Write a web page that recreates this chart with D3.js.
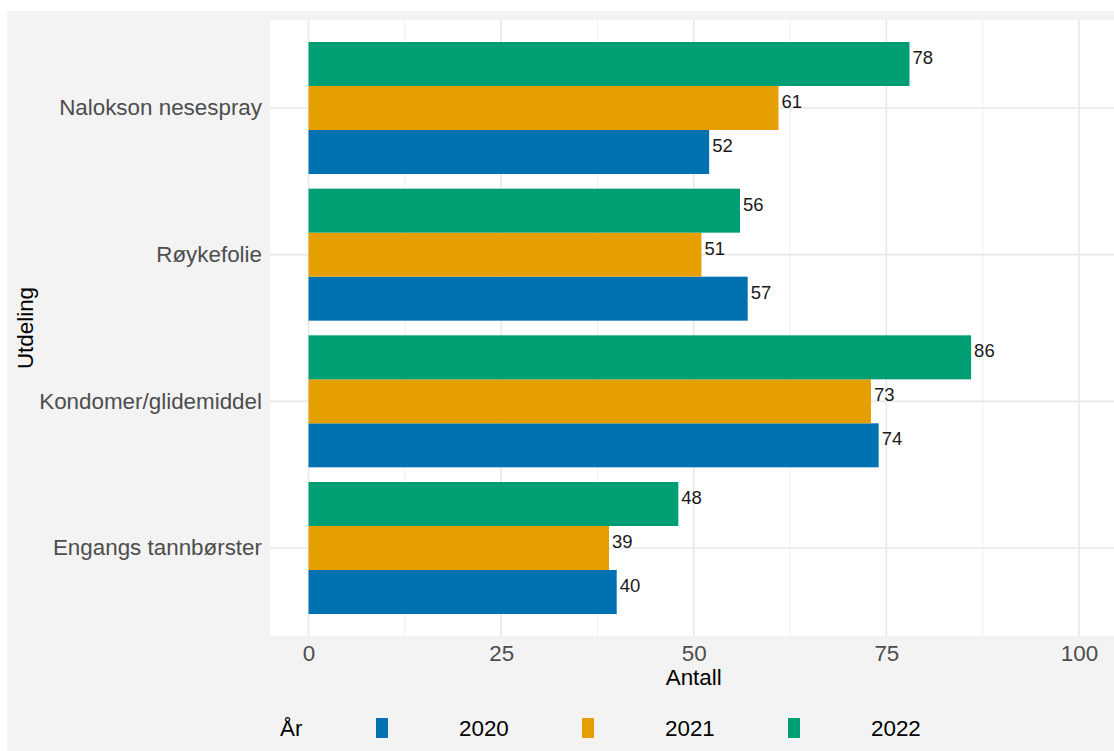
<!DOCTYPE html>
<html>
<head>
<meta charset="utf-8">
<script src="https://cdn.jsdelivr.net/npm/d3@7"></script>
<style>
  body { margin: 0; background: #fff; }
  text { font-family: "Liberation Sans", Arial, sans-serif; }
</style>
</head>
<body>
<script>
"use strict";
const categories = ["Nalokson nesespray", "Røykefolie", "Kondomer/glidemiddel", "Engangs tannbørster"];
const years = ["2020", "2021", "2022"];
const v2020 = [52, 57, 74, 40];
const v2021 = [61, 51, 73, 39];
const v2022 = [78, 56, 86, 48];
const xTicks = [0, 25, 50, 75, 100];
const xMinor = [12.5, 37.5, 62.5, 87.5];
const colors = {"2020": "#0072B2", "2021": "#E69F00", "2022": "#009E73"};

const rows = [];
categories.forEach((c, i) => {
	rows.push({cat: c, year: "2020", value: v2020[i]});
	rows.push({cat: c, year: "2021", value: v2021[i]});
	rows.push({cat: c, year: "2022", value: v2022[i]});
});

const w = 1114, h = 751;
const panel = {left: 270, top: 20, right: 1114, bottom: 636};
const fs = 22.4;

const svg = d3.select("body").append("svg").attr("width", w).attr("height", h);
svg.append("rect").attr("x", 7).attr("y", 11).attr("width", w - 7).attr("height", h - 11).attr("fill", "#f3f3f3");
svg.append("rect").attr("x", panel.left).attr("y", panel.top).attr("width", panel.right - panel.left).attr("height", panel.bottom - panel.top).attr("fill", "#fff");

const x = d3.scaleLinear().domain([-5, 105]).range([270, 1117.5]);
const y = d3.scaleBand().domain(categories).range([panel.top, panel.bottom]).paddingInner(0.1).paddingOuter(0.15);
const yInner = d3.scaleBand().domain(["2022", "2021", "2020"]).range([0, y.bandwidth()]);

const grid = svg.append("g");
grid.selectAll(".minor").data(xMinor).enter().append("line")
	.attr("x1", d => x(d)).attr("x2", d => x(d)).attr("y1", panel.top).attr("y2", panel.bottom)
	.attr("stroke", "#f0f0f0").attr("stroke-width", 1);
grid.selectAll(".major").data(xTicks).enter().append("line")
	.attr("x1", d => x(d)).attr("x2", d => x(d)).attr("y1", panel.top).attr("y2", panel.bottom)
	.attr("stroke", "#e8e8e8").attr("stroke-width", 1.6);
grid.selectAll(".ymajor").data(categories).enter().append("line")
	.attr("x1", panel.left).attr("x2", panel.right)
	.attr("y1", d => y(d) + y.bandwidth() / 2).attr("y2", d => y(d) + y.bandwidth() / 2)
	.attr("stroke", "#e8e8e8").attr("stroke-width", 1.6);

svg.append("g").selectAll("rect").data(rows).enter().append("rect")
	.attr("x", x(0))
	.attr("y", d => y(d.cat) + yInner(d.year))
	.attr("width", d => x(d.value) - x(0))
	.attr("height", yInner.bandwidth())
	.attr("fill", d => colors[d.year]);

svg.append("g").selectAll("text").data(rows).enter().append("text")
	.attr("x", d => x(d.value) + 3)
	.attr("y", d => y(d.cat) + yInner(d.year) + yInner.bandwidth() / 2)
	.attr("font-size", 18.5).attr("fill", "#1a1a1a")
	.text(d => d.value);

// axes
const xAxis = svg.append("g").attr("transform", "translate(0," + panel.bottom + ")")
	.call(d3.axisBottom(x).tickValues(xTicks).tickSize(0).tickPadding(9));
xAxis.select(".domain").remove();
xAxis.selectAll("text").attr("font-size", fs).attr("fill", "#4d4d4d").attr("font-family", "Liberation Sans, Arial, sans-serif");

const yAxis = svg.append("g").attr("transform", "translate(" + panel.left + ",0)")
	.call(d3.axisLeft(y).tickSize(0).tickPadding(8));
yAxis.select(".domain").remove();
yAxis.selectAll("text").attr("font-size", fs).attr("fill", "#4d4d4d").attr("font-family", "Liberation Sans, Arial, sans-serif");

svg.append("text").attr("x", x(50)).attr("y", 685).attr("text-anchor", "middle")
	.attr("font-size", fs).attr("fill", "#000").text("Antall");
svg.append("text").attr("transform", "translate(33," + ((panel.top + panel.bottom) / 2) + ") rotate(-90)")
	.attr("text-anchor", "middle").attr("font-size", fs).attr("fill", "#000").text("Utdeling");

// legend
const legend = svg.append("g");
legend.append("text").attr("x", 280).attr("y", 736).attr("font-size", fs).attr("fill", "#000").text("År");
const li = legend.selectAll(".item").data(years).enter().append("g")
	.attr("transform", (d, i) => "translate(" + (376 + i * 206) + ",0)");
li.append("rect").attr("x", 0).attr("y", 718).attr("width", 12).attr("height", 20).attr("fill", d => colors[d]);
li.append("text").attr("x", 83).attr("y", 736).attr("font-size", fs).attr("fill", "#000").text(d => d);
</script>
</body>
</html>
